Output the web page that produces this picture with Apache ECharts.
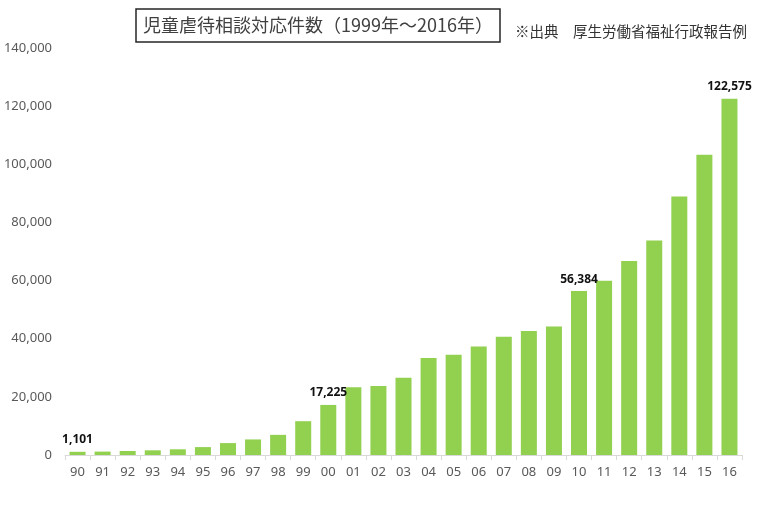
<!DOCTYPE html>
<html><head><meta charset="utf-8">
<script src="https://cdn.jsdelivr.net/npm/echarts@6/dist/echarts.min.js"></script>
<style>html,body{margin:0;padding:0;background:#fff}#c{width:768px;height:508px}</style>
</head><body><div id="c"></div>
<script>
const categories = ['90','91','92','93','94','95','96','97','98','99','00','01','02','03','04','05','06','07','08','09','10','11','12','13','14','15','16'];
const values = [1101,1171,1372,1611,1961,2722,4102,5352,6932,11631,17225,23274,23738,26569,33408,34472,37323,40639,42664,44211,56384,59919,66701,73802,88931,103286,122575];
const labeledIndices = [0,10,20,26];
const titleText = '児童虐待相談対応件数（1999年～2016年）';
const sourceText = '※出典　厚生労働省福祉行政報告例';

const chart = echarts.init(document.getElementById('c'));
chart.setOption({
  animation:false,
  title:[{
    text:titleText, left:136, top:9,
    padding:[7,7,7,7],
    borderColor:'#262626', borderWidth:1.5,
    textStyle:{fontFamily:'Noto Sans CJK JP', fontSize:18, lineHeight:19, fontWeight:'normal', color:'#404040'}
  },{
    text:sourceText, left:515, top:24, padding:0,
    textStyle:{fontFamily:'Noto Sans CJK JP', fontSize:14.5, lineHeight:15, fontWeight:'normal', color:'#333'}
  }],
  grid:{left:65, right:26, top:48, bottom:53, containLabel:false},
  xAxis:{
    type:'category', data:categories,
    axisLine:{lineStyle:{color:'#d9d9d9', width:1}},
    axisTick:{show:true, alignWithLabel:false, length:5, lineStyle:{color:'#d9d9d9'}},
    axisLabel:{color:'#595959', fontSize:13, fontFamily:'Noto Sans', margin:11}
  },
  yAxis:{
    type:'value', min:0, max:140000, interval:20000,
    splitLine:{show:false}, axisLine:{show:false}, axisTick:{show:false},
    axisLabel:{color:'#595959', fontSize:13, fontFamily:'Noto Sans', margin:13,
      formatter:v=>v.toLocaleString('en-US')}
  },
  series:[{
    type:'bar', barWidth:16,
    data:values.map((v,i)=>({value:v, label:{show:labeledIndices.includes(i)}})),
    itemStyle:{color:'#92d050'},
    label:{position:'top', distance:6, color:'#111', fontWeight:'bold', fontSize:12, fontFamily:'Noto Sans',
      formatter:p=>p.value.toLocaleString('en-US')}
  }]
});
</script></body></html>
